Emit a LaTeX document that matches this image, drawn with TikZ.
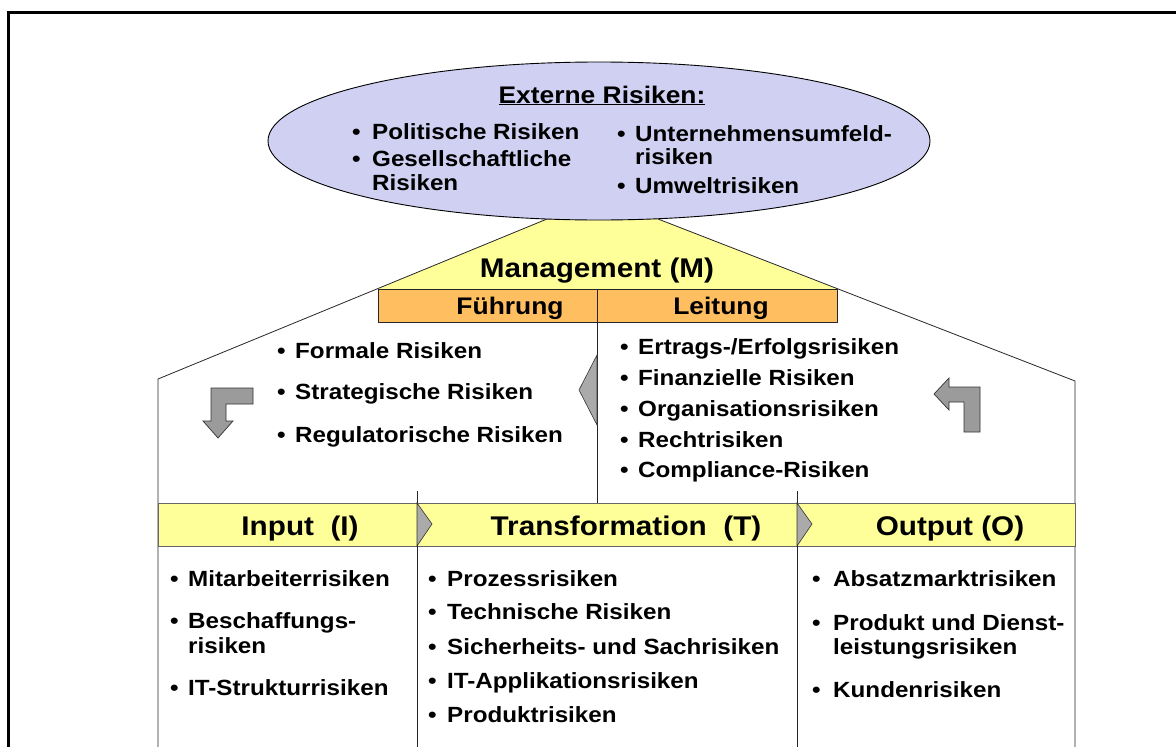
\documentclass[tikz,border=0pt]{standalone}
\usepackage{fontspec}
\setmainfont[FakeStretch=1.1]{Liberation Sans}
\usetikzlibrary{shapes.geometric}
\definecolor{extblue}{RGB}{208,208,242}
\definecolor{mgmtyellow}{RGB}{255,255,153}
\definecolor{barorange}{RGB}{255,190,95}
\definecolor{arrowgray}{RGB}{155,155,155}
\begin{document}
\begin{tikzpicture}[x=1pt,y=-1pt,
  rule/.style={draw=black!85, line width=0.8pt},
  risk/.style={anchor=base west, inner sep=0pt, font=\fontsize{22}{24}\selectfont\bfseries},
  head/.style={inner sep=0pt, anchor=base, font=\fontsize{27}{30}\selectfont\bfseries},
  subhead/.style={inner sep=0pt, anchor=base, font=\fontsize{24}{26}\selectfont\bfseries},
  turnarrow/.style={fill=arrowgray, draw=black!80, line width=0.7pt},
  chevron/.style={fill=arrowgray!85, draw=black!80, line width=0.6pt}]
\useasboundingbox (0,0) rectangle (1176,747);

% outer frame
\draw[line width=3pt] (8,747) -- (8,12) -- (1176,12);

% house outline with the management roof
\coordinate (apexL) at (547,219);
\coordinate (apexR) at (658,219);
\coordinate (eaveL) at (158,379);
\coordinate (eaveR) at (1075,381);
\coordinate (baseL) at (158,747);
\coordinate (baseR) at (1075,747);
\fill[mgmtyellow] (apexL) -- (apexR) -- (837,289) -- (378,289) -- cycle;
\draw[rule] (baseL) -- (eaveL) -- (apexL);
\draw[rule] (baseR) -- (eaveR) -- (apexR);

% external risks
\node[ellipse, draw=black, line width=0.9pt, fill=extblue, minimum width=662pt,
      minimum height=158pt, inner sep=0pt] (ext) at (599,141) {};
\node[subhead] (exttitle) at (602,103) {\underline{Externe Risiken:}};
\node[risk] (eb1) at (352,139) {\textbullet};
\node[risk] (e1) at (372,139) {Politische Risiken};
\node[risk] (eb2) at (352,166) {\textbullet};
\node[risk] (e2a) at (372,166) {Gesellschaftliche};
\node[risk] (e2b) at (372,190) {Risiken};
\node[risk] (eb3) at (617,141) {\textbullet};
\node[risk] (e3a) at (635,141) {Unternehmensumfeld-};
\node[risk] (e3b) at (635,164) {risiken};
\node[risk] (eb4) at (617,193) {\textbullet};
\node[risk] (e4) at (635,193) {Umweltrisiken};

% management
\node[head] (mgmt) at (597,277) {Management (M)};
\draw[rule, fill=barorange] (378,289) rectangle (837,322);
\draw[rule] (597,289) -- (597,503);
\node[subhead] (fuehrung) at (510,314) {Führung};
\node[subhead] (leitung) at (721,314) {Leitung};

% management risks
\node[risk] (fb1) at (277,358) {\textbullet};
\node[risk] (f1) at (295,358) {Formale Risiken};
\node[risk] (fb2) at (277,399) {\textbullet};
\node[risk] (f2) at (295,399) {Strategische Risiken};
\node[risk] (fb3) at (277,442) {\textbullet};
\node[risk] (f3) at (295,442) {Regulatorische Risiken};

\node[risk] (lb1) at (620,354) {\textbullet};
\node[risk] (l1) at (638,354) {Ertrags-/Erfolgsrisiken};
\node[risk] (lb2) at (620,385) {\textbullet};
\node[risk] (l2) at (638,385) {Finanzielle Risiken};
\node[risk] (lb3) at (620,416) {\textbullet};
\node[risk] (l3) at (638,416) {Organisationsrisiken};
\node[risk] (lb4) at (620,447) {\textbullet};
\node[risk] (l4) at (638,447) {Rechtrisiken};
\node[risk] (lb5) at (620,477) {\textbullet};
\node[risk] (l5) at (638,477) {Compliance-Risiken};

% turning arrows and the pointer between the two halves
\draw[turnarrow] (211,388) -- (253,388) -- (253,404) -- (226,404) -- (226,421)
  -- (233,421) -- (218,438) -- (203,421) -- (211,421) -- cycle;
\draw[turnarrow] (980,387) -- (980,432) -- (964,432) -- (964,402) -- (949,402)
  -- (949,410) -- (934,394) -- (949,378) -- (949,387) -- cycle;
\draw[chevron] (597,355) -- (579,390) -- (597,425) -- cycle;

% process bar
\draw[draw=black!60, line width=0.8pt, fill=mgmtyellow] (158,503) rectangle (1075,546);
\draw[rule] (417,491) -- (417,747);
\draw[rule] (797,491) -- (797,747);
\draw[chevron] (417,503) -- (432,524) -- (417,546) -- cycle;
\draw[chevron] (797,503) -- (812,524) -- (797,546) -- cycle;
\node[head] (input) at (300,535) {Input\ \ (I)};
\node[head] (trans) at (626,535) {Transformation\ \ (T)};
\node[head] (output) at (950,535) {Output (O)};

% input risks
\node[risk] (ib1) at (170,586) {\textbullet};
\node[risk] (i1) at (188,586) {Mitarbeiterrisiken};
\node[risk] (ib2) at (170,628) {\textbullet};
\node[risk] (i2a) at (188,628) {Beschaffungs-};
\node[risk] (i2b) at (188,653) {risiken};
\node[risk] (ib3) at (170,695) {\textbullet};
\node[risk] (i3) at (188,695) {IT-Strukturrisiken};

% transformation risks
\node[risk] (tb1) at (428,586) {\textbullet};
\node[risk] (t1) at (447,586) {Prozessrisiken};
\node[risk] (tb2) at (428,619) {\textbullet};
\node[risk] (t2) at (447,619) {Technische Risiken};
\node[risk] (tb3) at (428,654) {\textbullet};
\node[risk] (t3) at (447,654) {Sicherheits- und Sachrisiken};
\node[risk] (tb4) at (428,688) {\textbullet};
\node[risk] (t4) at (447,688) {IT-Applikationsrisiken};
\node[risk] (tb5) at (428,722) {\textbullet};
\node[risk] (t5) at (447,722) {Produktrisiken};

% output risks
\node[risk] (ob1) at (812,586) {\textbullet};
\node[risk] (o1) at (833,586) {Absatzmarktrisiken};
\node[risk] (ob2) at (812,630) {\textbullet};
\node[risk] (o2a) at (833,630) {Produkt und Dienst-};
\node[risk] (o2b) at (833,654) {leistungsrisiken};
\node[risk] (ob3) at (812,697) {\textbullet};
\node[risk] (o3) at (833,697) {Kundenrisiken};
\end{tikzpicture}
\end{document}
